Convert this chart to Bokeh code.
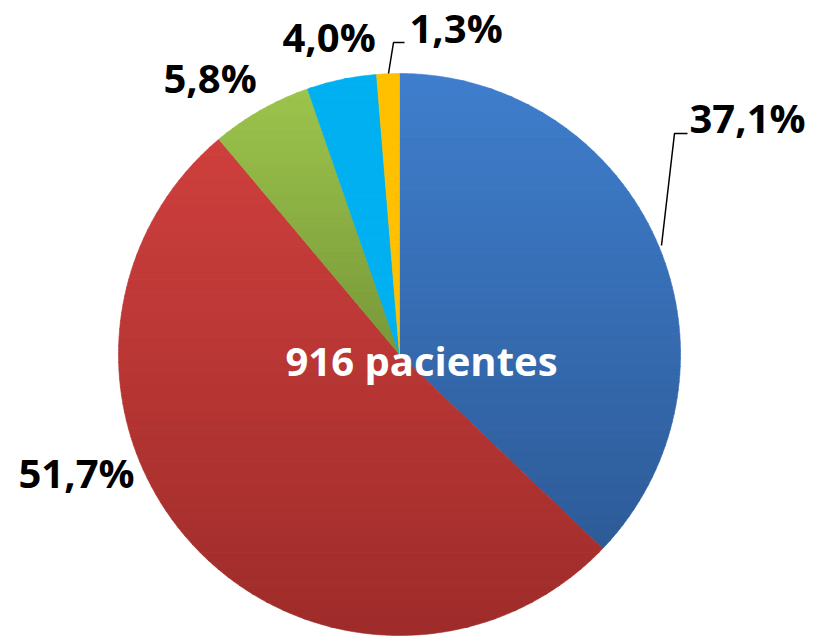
import math
import numpy as np
from bokeh.plotting import figure
from bokeh.models import Range1d
from bokeh.core.properties import value
from bokeh.embed import file_html
from bokeh.resources import INLINE

# Data
categories = ["A", "B", "C", "D", "E"]
percentages = [37.1, 51.7, 5.8, 4.0, 1.3]
top_colors = ["#3F7ECD", "#CE3F3D", "#9CC44C", "#00B0F0", "#FFC000"]
bottom_colors = ["#2D5B98", "#9E2C2A", "#789839", "#00B0F0", "#FFC000"]
center_label = "916 pacientes"

# Layout (plot pixel coordinates, y up)
W, H = 837, 638
cx, cy, r = 399, 284, 281
label_pos = [(689, 521), (18, 166), (163, 561), (282, 602), (409, 611)]
center_pos = (421, 278)


def hex2rgb(h):
    return np.array([int(h[i:i + 2], 16) for i in (1, 3, 5)], dtype=float)


def rgb2hex(c):
    return "#%02x%02x%02x" % tuple(int(round(v)) for v in c)


def clip(poly, yv, keep_above):
    out = []
    n = len(poly)
    for i in range(n):
        a = poly[i]
        b = poly[(i + 1) % n]
        ina = a[1] >= yv if keep_above else a[1] <= yv
        inb = b[1] >= yv if keep_above else b[1] <= yv
        if ina:
            out.append(a)
        if ina != inb:
            t = (yv - a[1]) / (b[1] - a[1])
            out.append((a[0] + t * (b[0] - a[0]), yv))
    return out


p = figure(width=W, height=H, output_backend="svg", toolbar_location=None,
           x_range=Range1d(0, W), y_range=Range1d(0, H), min_border=0)
p.axis.visible = False
p.grid.visible = False
p.outline_line_color = None
p.background_fill_color = "white"
p.border_fill_color = "white"

total = sum(percentages)
acc = 0.0
xs_all, ys_all, col_all = [], [], []
for v, ctop, cbot in zip(percentages, top_colors, bottom_colors):
    a0 = math.pi / 2 - 2 * math.pi * acc / total
    acc += v
    a1 = math.pi / 2 - 2 * math.pi * acc / total
    n = max(8, int(abs(a0 - a1) * 120))
    ang = np.linspace(a0, a1, n)
    poly = [(cx, cy)] + [(cx + r * math.cos(a), cy + r * math.sin(a)) for a in ang]
    ymax = max(q[1] for q in poly)
    ymin = min(q[1] for q in poly)
    nb = 60
    edges = np.linspace(ymin, ymax, nb + 1)
    ct, cb = hex2rgb(ctop), hex2rgb(cbot)
    for i in range(nb):
        lo, hi = edges[i], edges[i + 1] + 0.6
        sub = clip(clip(poly, lo, True), hi, False)
        if len(sub) < 3:
            continue
        t = (0.5 * (edges[i] + edges[i + 1]) - ymin) / (ymax - ymin)
        c = rgb2hex(cb + (ct - cb) * t)
        xs_all.append([q[0] for q in sub])
        ys_all.append([q[1] for q in sub])
        col_all.append(c)

p.patches(xs=xs_all, ys=ys_all, fill_color=col_all, line_color=col_all, line_width=0.6)

# leader lines
p.line([661, 674, 687], [393, 505, 505], line_color="black", line_width=1.5)
p.line([388, 393, 404], [565, 596, 596], line_color="black", line_width=1.5)

labels = [f"{v:.1f}".replace(".", ",") + "%" for v in percentages]
p.text(x=[q[0] for q in label_pos], y=[q[1] for q in label_pos], text=labels,
       text_font=value("Open Sans"), text_font_style="bold", text_font_size="40px",
       text_color="black", text_align="left", text_baseline="alphabetic")

p.text(x=[center_pos[0]], y=[center_pos[1]], text=[center_label], text_font=value("Open Sans"),
       text_font_style="bold", text_font_size="40px", text_color="white",
       text_align="center", text_baseline="alphabetic")

open("out.html", "w").write(file_html(p, INLINE))
